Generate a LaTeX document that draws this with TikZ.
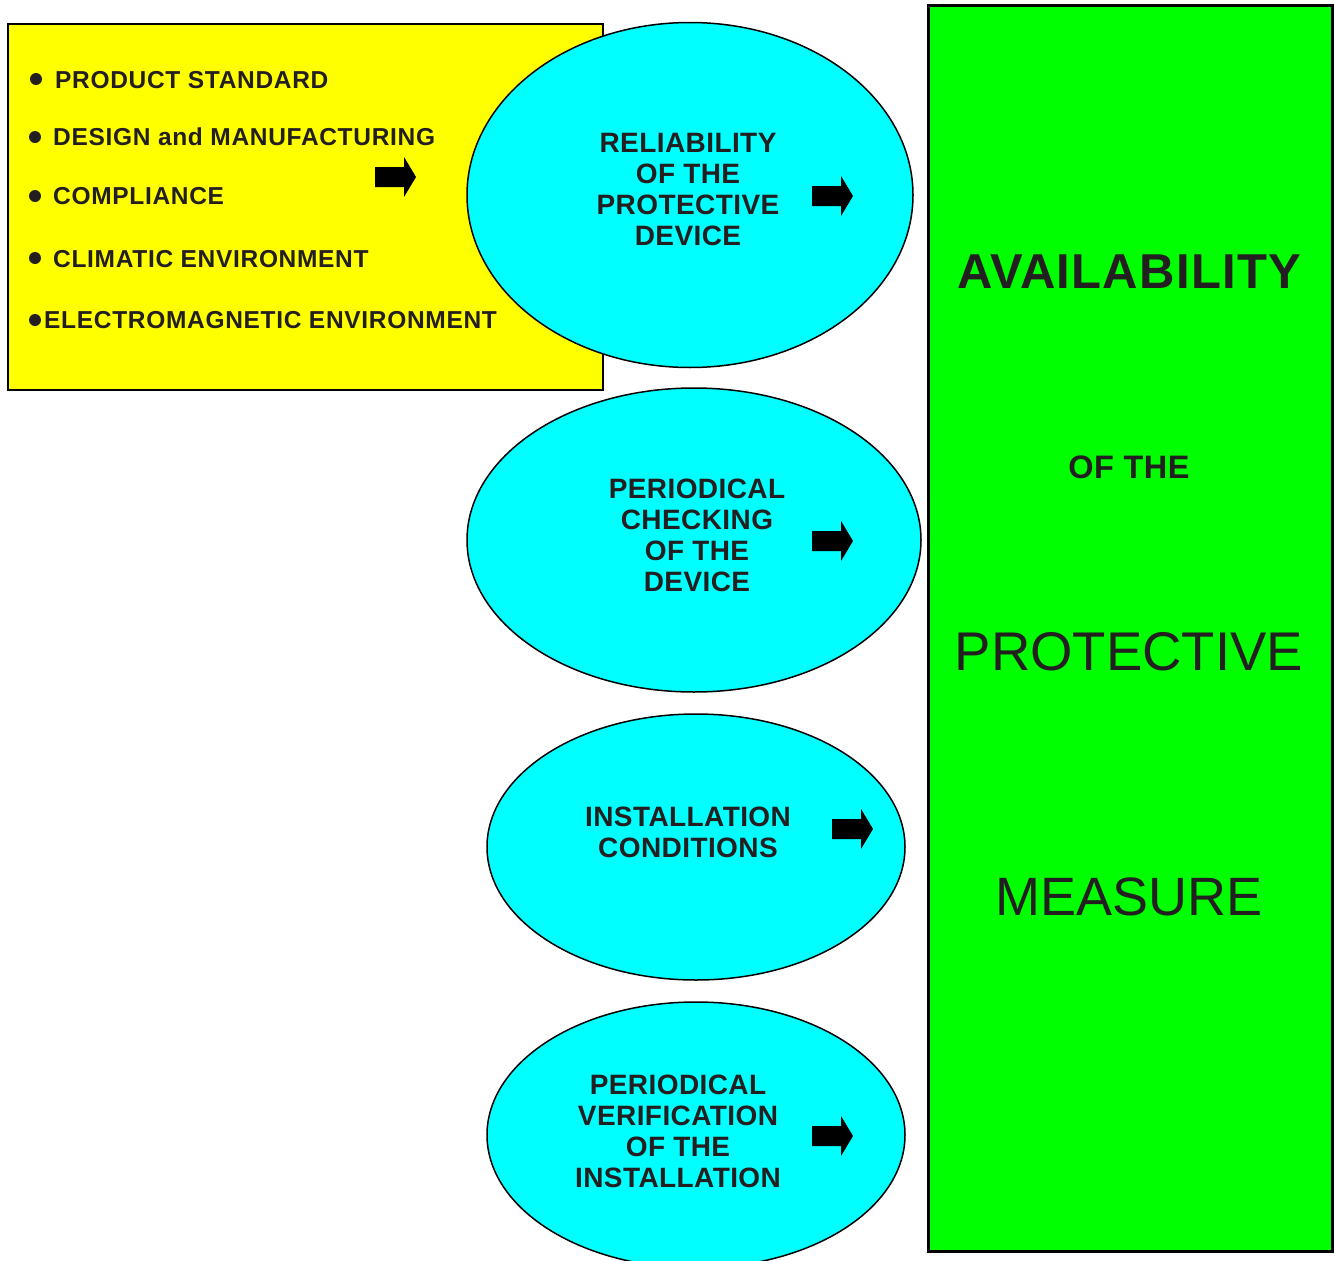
\documentclass[tikz,border=0pt]{standalone}
\usepackage{fontspec}
\setmainfont{Liberation Sans}
\newfontfamily\itemfont[LetterSpace=2.8]{Liberation Sans}
\newfontfamily\ellfont[LetterSpace=1.5]{Liberation Sans}
\newfontfamily\bigfont[LetterSpace=2.5]{Liberation Sans}
\usetikzlibrary{shapes.geometric}
\definecolor{txt}{HTML}{231F20}
\definecolor{yel}{HTML}{FFFF00}
\definecolor{cya}{HTML}{00FFFF}
\definecolor{grn}{HTML}{00FF00}
\tikzset{
  bubble/.style={ellipse, draw=black, line width=1.5pt, fill=cya, inner sep=0pt},
  itemtxt/.style={anchor=base west, inner sep=0pt, text=txt, font=\itemfont\fontsize{24.5}{28}\selectfont\bfseries},
  ellitxt/.style={align=center, inner sep=0pt, text=txt, font=\ellfont\fontsize{28}{31}\selectfont\bfseries},
  dot/.style={circle, fill=txt, minimum size=12pt, inner sep=0pt},
  blockarr/.pic={\fill[black] (0,-10)--(29,-10)--(29,-20)--(41,0)--(29,20)--(29,10)--(0,10)--cycle;}
}
\begin{document}
\begin{tikzpicture}[x=1pt,y=-1pt]
\useasboundingbox (0,0) rectangle (1334,1261);
\fill[white] (0,0) rectangle (1334,1261);
% yellow box
\node[draw=black, line width=2pt, fill=yel, minimum width=595pt, minimum height=366pt, inner sep=0pt, anchor=north west] (ybox) at (7,23) {};
% green box
\node[draw=black, line width=3pt, fill=grn, minimum width=404pt, minimum height=1246pt, inner sep=0pt, anchor=north west] (gbox) at (927,4) {};
% ellipses
\node[bubble, minimum width=446pt, minimum height=345pt] (e1) at (690,195) {};
\node[bubble, minimum width=454pt, minimum height=304pt] (e2) at (694,540) {};
\node[bubble, minimum width=418pt, minimum height=266pt] (e3) at (696,847) {};
\node[bubble, minimum width=418pt, minimum height=266pt] (e4) at (696,1135) {};
% bullet items
\node[dot] (b1) at (36,79) {};
\node[itemtxt] (i1) at (55,88) {PRODUCT STANDARD};
\node[dot] (b2) at (35,137) {};
\node[itemtxt] (i2) at (53,145) {DESIGN and MANUFACTURING};
\node[dot] (b3) at (35,196) {};
\node[itemtxt] (i3) at (53,204) {COMPLIANCE};
\node[dot] (b4) at (35,258) {};
\node[itemtxt] (i4) at (53,267) {CLIMATIC ENVIRONMENT};
\node[dot] (b5) at (35,320) {};
\node[itemtxt] (i5) at (44,328) {ELECTROMAGNETIC ENVIRONMENT};
% ellipse texts
\node[ellitxt] (t1) at (688,190) {RELIABILITY\\OF THE\\PROTECTIVE\\DEVICE};
\node[ellitxt] (t2) at (697,535) {PERIODICAL\\CHECKING\\OF THE\\DEVICE};
\node[ellitxt] (t3) at (688,832) {INSTALLATION\\CONDITIONS};
\node[ellitxt] (t4) at (678,1131) {PERIODICAL\\VERIFICATION\\OF THE\\INSTALLATION};
% arrows
\pic at (375,177) {blockarr};
\pic at (812,196) {blockarr};
\pic at (812,541) {blockarr};
\pic at (832,829) {blockarr};
\pic at (812,1136) {blockarr};
% green texts
\node[anchor=base, inner sep=0pt, text=txt, font=\bigfont\fontsize{49}{55}\selectfont\bfseries] (g1) at (1129,288) {AVAILABILITY};
\node[anchor=base, inner sep=0pt, text=txt, font=\ellfont\fontsize{32.5}{36}\selectfont\bfseries] (g2) at (1129,478) {OF THE};
\node[anchor=base, inner sep=0pt, text=txt, font=\fontsize{54.5}{60}\selectfont] (g3) at (1129,670) {PROTECTIVE};
\node[anchor=base, inner sep=0pt, text=txt, font=\fontsize{54}{60}\selectfont] (g4) at (1129,915) {MEASURE};
\end{tikzpicture}
\end{document}
